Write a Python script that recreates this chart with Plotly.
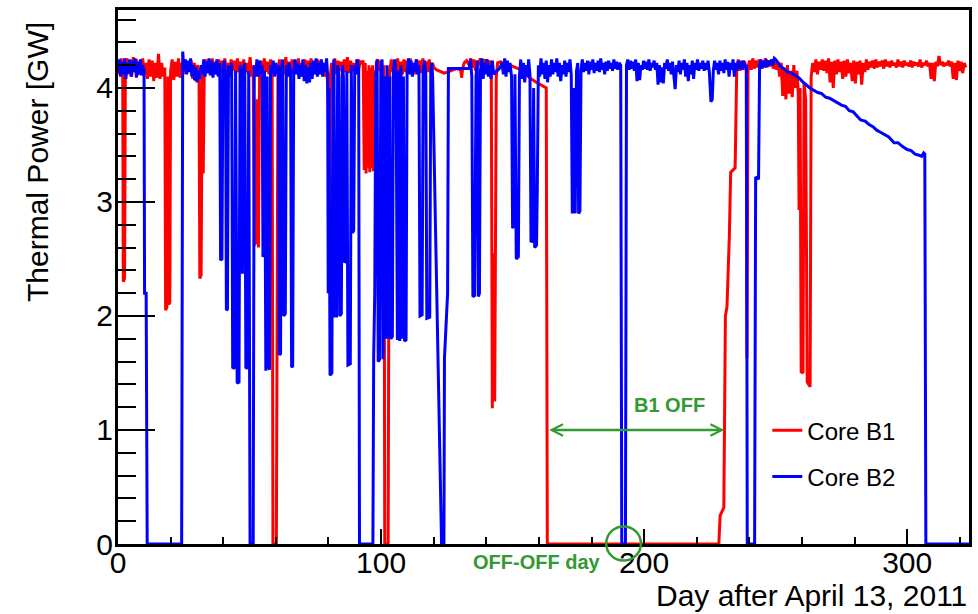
import plotly.graph_objects as go

# ---- Core B1 readings (day, thermal power GW) ----
b1_spring = [
    (0.0, 4.20), (0.6, 4.12), (1.2, 4.26), (1.8, 4.15), (2.0, 2.30), (2.5, 2.33), (2.8, 4.18),
    (3.4, 4.26), (4.0, 4.12), (4.6, 4.24), (5.2, 4.10), (5.8, 4.27), (6.4, 4.14), (7.0, 4.25),
    (7.6, 4.11), (8.2, 4.23), (8.8, 4.13), (9.4, 4.26), (10.0, 4.12), (10.6, 4.22), (11.2, 4.08),
    (11.8, 4.25), (12.4, 4.10), (13.0, 4.24), (13.6, 4.06), (14.2, 4.22), (14.8, 4.09), (15.4, 4.30),
    (16.0, 4.08), (16.6, 4.22), (17.2, 4.10), (17.8, 4.18), (18.1, 2.05), (18.6, 2.08), (19.0, 4.10),
    (19.3, 2.10), (19.7, 2.12), (20.0, 4.15), (20.6, 4.25), (21.2, 4.07), (21.8, 4.23), (22.4, 4.10),
    (23.0, 4.26), (23.6, 4.09), (24.2, 4.22), (24.8, 4.12), (25.4, 4.25), (26.0, 4.15), (26.6, 4.23),
    (27.2, 4.16), (27.8, 4.24), (28.4, 4.08), (29.0, 4.22), (29.6, 4.06), (30.2, 4.20), (30.8, 4.15),
    (31.1, 2.33), (31.6, 2.36), (32.0, 4.15), (32.4, 3.25), (32.8, 4.18), (33.4, 4.25), (34.0, 4.13),
    (34.6, 4.24), (35.2, 4.12), (35.8, 4.26), (36.4, 4.14), (37.0, 4.23), (37.6, 4.12), (38.2, 4.25),
    (38.8, 4.15), (39.4, 4.24), (40.0, 4.13), (40.6, 4.26), (41.2, 4.14), (41.8, 4.22), (42.4, 4.12),
    (43.0, 4.25), (43.6, 4.15), (44.2, 4.24), (44.8, 4.13), (45.4, 4.26), (46.0, 4.14), (46.6, 4.23),
    (47.2, 4.12), (47.8, 4.25), (48.4, 4.14), (49.0, 4.22), (49.6, 4.12), (50.2, 4.27), (50.8, 4.10),
    (51.4, 4.20), (51.9, 2.62), (52.4, 2.65), (52.8, 3.90), (53.4, 2.60), (53.8, 4.10), (54.4, 4.24),
    (55.0, 4.12), (55.6, 4.26), (56.2, 4.14), (56.8, 4.23), (57.4, 4.12), (58.0, 4.25), (58.6, 4.15),
    (58.9, 0.0), (60.2, 0.0), (60.5, 2.90), (60.8, 4.15), (61.4, 4.25), (62.0, 4.13), (62.6, 4.24),
    (63.2, 4.12), (63.8, 4.27), (64.4, 4.14), (65.0, 4.23), (65.6, 4.11), (66.2, 4.25), (66.8, 4.14),
    (67.4, 4.24), (68.0, 4.13), (68.6, 4.26), (69.2, 4.12), (69.8, 4.22), (70.4, 4.14), (71.0, 4.25),
    (71.6, 4.13), (72.2, 4.24), (72.8, 4.15), (73.4, 4.26), (74.0, 4.12), (74.6, 4.23), (75.2, 4.14),
    (75.8, 4.25), (76.4, 4.13), (77.0, 4.24), (77.6, 4.16), (78.2, 4.22), (78.8, 4.10), (79.4, 4.15),
    (79.9, 3.95), (80.3, 2.95), (80.7, 4.10), (81.2, 4.22), (81.8, 4.14), (82.4, 4.26), (83.0, 4.12),
    (83.6, 4.24), (84.2, 4.15), (84.8, 4.23), (85.4, 4.12), (86.0, 4.25), (86.6, 4.14), (87.2, 4.27),
    (87.8, 4.13), (88.4, 4.24), (89.0, 4.15), (89.6, 4.22), (90.2, 4.13), (90.8, 4.25), (91.4, 4.14),
    (92.0, 4.23), (92.6, 4.22), (93.2, 4.24), (93.6, 3.28), (94.0, 4.22), (94.3, 3.25), (94.7, 4.15),
    (95.0, 3.30), (95.4, 4.20), (95.7, 3.26), (96.1, 4.18), (96.4, 3.30), (96.8, 4.20), (97.1, 3.27),
    (97.5, 4.15), (97.8, 3.32), (98.2, 4.22), (98.8, 4.25), (99.4, 4.15), (100.0, 4.24), (100.6, 4.14),
    (101.1, 4.20), (101.4, 0.0), (102.7, 0.0), (103.0, 2.60), (103.3, 4.15),
]
b1_summer = [
    (103.9, 4.25), (104.5, 4.14), (105.1, 4.24), (105.7, 4.13), (106.3, 4.26), (106.9, 4.15),
    (107.5, 4.23), (108.1, 4.12), (108.7, 4.25), (109.3, 4.14), (109.9, 4.24), (110.5, 4.13),
    (111.1, 4.26), (111.7, 4.15), (112.3, 4.22), (112.9, 4.12), (113.5, 4.25), (114.1, 4.16),
    (114.7, 4.24), (115.3, 4.13), (115.9, 4.26), (116.5, 4.15), (117.1, 4.23), (117.7, 4.14),
    (118.3, 4.25), (118.9, 4.15), (119.5, 4.22), (120.1, 4.18), (121.0, 4.16), (124.0, 4.13),
    (126.5, 4.15), (128.5, 4.17), (130.3, 4.16), (130.6, 4.09), (131.0, 4.17), (131.6, 4.22),
    (132.5, 4.24), (133.5, 4.20), (134.1, 4.26), (134.7, 4.18), (135.3, 4.25), (135.9, 4.15),
    (136.5, 4.24), (137.1, 4.20), (137.7, 4.26), (138.3, 4.19), (138.9, 4.25), (139.5, 4.22),
    (140.1, 4.25), (140.7, 4.18), (141.3, 4.24), (141.9, 4.20), (142.3, 1.19), (142.7, 2.55),
    (143.2, 1.25), (143.8, 4.10), (144.3, 4.22), (145.5, 4.23), (147.0, 4.20), (149.0, 4.20),
    (151.0, 4.18), (153.0, 4.16), (155.0, 4.12), (157.0, 4.08), (159.0, 4.05), (161.0, 4.02),
    (162.8, 4.00), (163.2, 0.0), (228.4, 0.0), (228.9, 0.25), (230.3, 0.32), (230.9, 2.00),
    (231.5, 2.08), (232.4, 2.70), (232.9, 3.26), (234.6, 3.30), (235.2, 4.16),
]
b1_autumn = [
    (235.8, 4.25), (236.4, 4.15), (237.0, 4.24), (237.6, 4.16), (238.2, 4.23), (238.8, 4.18),
    (239.1, 1.63), (239.5, 4.18), (240.1, 4.24), (240.7, 4.16), (241.3, 4.26), (241.9, 4.17),
    (242.5, 4.24), (243.1, 4.18), (243.7, 4.25), (244.3, 4.17), (244.9, 4.23), (245.5, 4.19),
    (246.1, 4.26), (246.7, 4.18), (247.3, 4.24), (247.9, 4.19), (248.5, 4.25), (249.1, 4.17),
    (249.7, 4.24), (250.3, 4.16), (250.9, 4.23), (251.5, 4.10), (252.1, 4.22), (252.7, 3.93),
    (253.3, 4.18), (253.9, 3.90), (254.5, 4.20), (255.1, 3.95), (255.7, 4.15), (256.3, 3.92),
    (256.9, 4.20), (257.5, 4.00), (258.1, 4.15), (258.6, 3.95), (258.9, 2.93), (259.3, 4.00),
    (259.7, 1.51), (260.4, 1.50), (260.8, 4.05), (261.4, 3.90), (262.0, 1.42), (263.1, 1.38),
    (263.5, 4.10), (264.1, 4.22), (264.7, 4.14), (265.3, 4.25), (265.9, 4.12), (266.5, 4.23),
    (267.1, 4.16), (267.7, 4.25), (268.3, 4.15), (268.9, 4.24), (269.5, 4.13), (270.1, 4.26),
    (270.7, 4.05), (271.3, 4.23), (271.9, 4.00), (272.5, 4.24), (273.1, 4.12), (273.7, 4.25),
    (274.3, 4.14), (274.9, 4.23), (275.5, 4.08), (276.1, 4.24), (276.7, 4.10), (277.3, 4.25),
    (277.9, 4.13), (278.5, 4.22), (279.1, 4.06), (279.7, 4.24), (280.3, 4.04), (280.9, 4.23),
    (281.5, 4.12), (282.1, 4.24), (282.7, 4.03), (283.3, 4.22), (283.9, 4.14), (284.5, 4.25),
    (285.1, 4.16), (285.7, 4.23), (286.3, 4.18), (286.9, 4.24), (287.5, 4.17), (288.1, 4.25),
    (288.7, 4.18), (289.3, 4.23), (289.9, 4.19), (290.5, 4.24), (291.1, 4.17), (291.7, 4.25),
    (292.3, 4.19), (292.9, 4.23), (293.5, 4.18), (294.1, 4.24), (294.7, 4.20), (295.3, 4.22),
    (295.9, 4.18), (296.5, 4.25), (297.1, 4.19), (297.7, 4.23), (298.3, 4.18), (298.9, 4.24),
    (299.5, 4.20), (300.1, 4.22), (300.7, 4.19), (301.3, 4.24), (301.9, 4.18), (302.5, 4.23),
    (303.1, 4.20), (303.7, 4.22), (304.3, 4.19), (304.9, 4.25), (305.5, 4.18), (306.1, 4.22),
    (306.7, 4.20), (307.3, 4.24), (307.9, 4.19), (308.5, 4.22), (309.1, 4.08), (309.7, 4.22),
    (310.3, 4.06), (310.9, 4.23), (311.5, 4.19), (312.1, 4.28), (312.7, 4.20), (313.3, 4.23),
    (313.9, 4.19), (314.5, 4.22), (315.1, 4.20), (315.7, 4.24), (316.3, 4.19), (316.9, 4.23),
    (317.5, 4.08), (318.1, 4.22), (318.7, 4.07), (319.3, 4.24), (319.9, 4.15), (320.5, 4.23),
    (321.1, 4.13), (321.7, 4.22), (322.3, 4.18),
]

# ---- Core B2 readings (day, thermal power GW) ----
b2_spring = [
    (0.0, 4.15), (0.5, 4.25), (1.0, 4.10), (1.5, 4.23), (2.0, 4.12), (2.5, 4.26), (3.0, 4.08),
    (3.5, 4.22), (4.0, 4.13), (4.5, 4.25), (5.0, 4.10), (5.5, 4.24), (6.0, 4.14), (6.5, 4.26),
    (7.0, 4.09), (7.5, 4.23), (8.0, 4.12), (8.5, 4.25), (9.0, 4.11), (9.5, 4.20), (9.9, 4.15),
    (10.1, 2.20), (10.7, 2.20), (11.1, 0.0), (24.2, 0.0), (24.6, 4.32), (25.1, 4.15), (25.6, 4.25),
    (26.1, 4.12), (26.6, 4.24), (27.1, 4.14), (27.6, 4.26), (28.1, 4.10), (28.6, 4.20), (29.1, 4.07),
    (29.6, 4.18), (30.1, 4.05), (30.6, 4.15), (31.1, 4.08), (31.6, 4.20), (32.1, 4.12), (32.6, 4.25),
    (33.1, 4.10), (33.6, 4.23), (34.1, 4.13), (34.6, 4.26), (35.1, 4.11), (35.6, 4.24), (36.1, 4.09),
    (36.6, 4.22), (37.1, 4.12), (37.6, 4.25), (38.1, 4.10), (38.7, 4.22), (39.0, 2.49), (39.5, 2.50),
    (39.9, 4.15), (40.4, 4.24), (40.9, 4.12), (41.2, 2.05), (41.6, 2.06), (42.0, 4.20), (42.6, 4.10),
    (43.2, 4.22), (43.6, 1.55), (44.3, 1.54), (44.7, 4.15), (45.3, 1.41), (46.0, 1.42), (46.4, 4.20),
    (46.8, 4.10), (47.3, 2.37), (47.6, 4.15), (48.2, 4.22), (48.6, 1.55), (49.3, 1.54), (49.7, 4.15),
    (50.2, 0.0), (51.4, 0.0), (51.8, 4.20), (52.3, 4.10), (52.8, 4.25), (53.3, 4.10), (53.8, 4.24),
    (54.3, 4.12), (54.8, 4.20), (55.1, 2.52), (55.4, 2.53), (55.7, 4.15), (56.2, 1.52), (56.7, 4.10),
    (57.1, 1.55), (57.6, 1.53), (58.0, 4.20), (58.5, 4.12), (59.0, 4.24), (59.5, 4.10), (60.0, 4.22),
    (60.5, 4.12), (61.0, 4.20), (61.3, 1.66), (61.8, 1.67), (62.1, 4.15), (62.6, 4.25), (63.0, 2.00),
    (63.6, 2.02), (64.0, 4.20), (64.5, 4.10), (65.0, 4.22), (65.6, 4.15), (66.0, 1.55), (66.4, 1.56),
    (66.8, 4.15), (67.3, 4.25), (67.8, 4.12), (68.3, 4.22), (68.8, 4.08), (69.3, 4.20), (69.8, 4.10),
    (70.3, 4.25), (70.8, 4.06), (71.3, 4.20), (71.8, 4.04), (72.3, 4.18), (72.8, 4.05), (73.3, 4.22),
    (73.8, 4.08), (74.3, 4.24), (74.8, 4.12), (75.3, 4.26), (75.8, 4.10), (76.3, 4.22), (76.8, 4.12),
    (77.3, 4.25), (77.8, 4.10), (78.3, 4.22), (78.8, 4.14), (79.3, 4.26), (79.7, 4.10), (79.9, 2.20),
    (80.2, 4.00), (80.6, 1.48), (81.3, 1.50), (81.7, 4.15), (82.1, 4.25), (82.5, 2.00), (83.1, 2.00),
    (83.5, 4.20), (84.0, 4.10), (84.3, 2.00), (84.9, 2.02), (85.3, 4.20), (85.7, 4.10), (86.1, 2.47),
    (86.6, 2.48), (87.0, 4.15), (87.4, 1.57), (88.3, 1.58), (88.7, 4.20), (89.1, 2.73), (89.6, 2.75),
    (90.0, 4.20), (90.5, 4.12), (91.0, 4.25), (91.5, 4.15), (91.8, 0.0), (96.9, 0.0), (97.2, 1.64),
    (97.6, 2.20), (98.0, 4.10), (98.5, 4.25), (98.9, 1.60), (99.5, 1.62), (99.9, 4.15), (100.4, 4.25),
    (100.8, 1.62), (101.3, 4.10), (101.7, 1.80), (102.3, 4.20), (102.7, 1.80), (103.3, 4.10),
    (103.7, 1.80), (104.3, 1.82), (104.7, 4.15), (105.2, 4.25), (105.7, 4.12), (106.2, 1.79),
    (106.7, 4.15), (107.1, 1.78), (107.6, 4.20), (108.0, 1.80), (108.5, 4.10), (108.9, 1.78),
    (109.5, 1.79), (109.9, 4.15), (110.4, 4.26), (110.9, 4.12), (111.4, 4.24), (111.9, 4.10),
    (112.4, 4.22), (112.9, 4.14), (113.4, 4.25), (113.9, 4.12), (114.4, 4.20), (114.8, 2.00),
    (115.6, 2.01), (116.0, 4.15), (116.6, 4.24), (117.0, 4.12), (117.4, 1.98), (118.5, 1.99),
    (118.9, 4.15), (119.3, 4.22), (119.6, 4.10), (123.0, 0.0), (123.9, 0.0), (124.1, 1.63),
    (125.3, 2.20), (125.6, 4.17), (133.5, 4.17),
]
b2_summer = [
    (134.0, 4.25), (134.5, 4.10), (134.9, 2.17), (135.6, 2.18), (136.1, 4.10), (136.6, 4.24),
    (137.0, 2.17), (137.4, 2.20), (137.8, 4.15), (138.3, 4.26), (138.8, 4.08), (139.3, 4.22),
    (139.8, 4.12), (140.3, 4.25), (140.8, 4.10), (141.3, 4.20), (141.8, 4.08), (142.3, 4.24),
    (142.8, 4.12), (143.5, 4.14), (145.0, 4.17), (146.0, 4.22), (146.5, 4.12), (147.0, 4.26),
    (147.5, 4.10), (148.0, 4.24), (148.5, 4.14), (149.0, 4.22), (149.6, 4.10), (150.0, 2.77),
    (150.5, 2.80), (150.9, 4.12), (151.4, 2.50), (152.2, 2.52), (152.6, 4.10), (153.1, 4.25),
    (153.6, 4.08), (154.1, 4.22), (154.6, 4.05), (155.1, 4.20), (155.6, 4.10), (156.1, 4.25),
    (156.6, 4.12), (157.0, 2.65), (157.6, 2.66), (158.0, 4.00), (158.4, 2.60), (159.1, 2.62),
    (159.4, 3.13), (159.8, 4.20), (160.3, 4.10), (160.8, 4.26), (161.3, 4.12), (161.8, 4.22),
    (162.3, 4.08), (162.8, 4.24), (163.3, 4.05), (163.8, 4.20), (164.3, 4.10), (164.8, 4.25),
    (165.3, 4.12), (165.8, 4.22), (166.3, 4.14), (166.8, 4.26), (167.3, 4.10), (167.8, 4.22),
    (168.3, 4.06), (168.8, 4.20), (169.3, 4.12), (169.8, 4.24), (170.3, 4.10), (170.8, 4.22),
    (171.3, 4.14), (171.8, 4.25), (172.3, 4.12), (172.7, 2.90), (173.3, 4.00), (173.8, 2.90),
    (174.3, 4.15), (174.8, 4.22), (175.1, 2.90), (175.6, 2.92), (176.0, 4.15), (176.5, 4.25),
    (177.0, 4.14), (177.5, 4.22), (178.0, 4.15), (178.5, 4.24), (179.0, 4.12), (179.5, 4.23),
    (180.0, 4.16), (180.5, 4.25), (181.0, 4.13), (181.5, 4.22), (182.0, 4.15), (182.5, 4.24),
    (183.0, 4.14), (183.5, 4.26), (184.0, 4.16), (184.5, 4.22), (185.0, 4.12), (185.5, 4.23),
    (186.0, 4.15), (186.5, 4.24), (187.0, 4.17), (187.5, 4.22), (188.0, 4.15), (188.5, 4.25),
    (189.0, 4.17), (189.5, 4.23), (190.0, 4.16), (190.5, 4.22), (191.1, 4.20), (191.5, 0.0),
    (192.9, 0.0), (193.3, 4.20), (193.8, 4.25), (194.3, 4.16), (194.8, 4.24), (195.3, 4.17),
    (195.8, 4.23), (196.3, 4.15), (196.8, 4.25), (197.3, 4.06), (197.8, 4.22), (198.3, 4.07),
    (198.8, 4.20), (199.3, 4.16), (199.8, 4.24), (200.3, 4.17), (200.8, 4.23), (201.3, 4.16),
    (201.8, 4.25), (202.3, 4.15), (202.8, 4.22), (203.3, 4.18), (203.8, 4.24), (204.3, 4.16),
    (204.8, 4.22), (205.3, 4.03), (205.8, 4.20), (206.3, 4.05), (206.8, 4.18), (207.3, 4.04),
    (207.8, 4.22), (208.3, 4.17), (208.8, 4.25), (209.3, 4.15), (209.8, 4.22), (210.3, 4.12),
    (210.8, 4.23), (211.3, 4.10), (211.8, 3.99), (212.3, 4.20), (212.8, 4.14), (213.3, 4.24),
    (213.8, 4.12), (214.3, 4.22), (214.8, 4.16), (215.3, 4.25), (215.8, 4.10), (216.3, 4.22),
    (216.8, 4.06), (217.3, 4.20), (217.8, 4.12), (218.3, 4.24), (218.8, 4.08), (219.3, 4.22),
    (219.8, 4.16), (220.3, 4.25), (220.8, 4.15), (221.3, 4.22), (221.8, 4.17), (222.3, 4.24),
    (222.8, 4.15), (223.3, 4.22), (223.8, 4.16), (224.3, 4.24), (224.8, 4.14), (225.4, 3.88),
    (225.9, 3.90), (226.3, 4.15), (226.8, 4.24), (227.3, 4.16), (227.8, 4.22), (228.3, 4.12),
    (228.8, 4.24), (229.3, 4.15), (229.8, 4.22), (230.3, 4.13), (230.8, 4.25), (231.3, 4.16),
    (231.8, 4.23), (232.3, 4.10), (232.8, 4.22), (233.3, 4.16), (233.8, 4.25), (234.3, 4.10),
    (234.8, 4.22), (235.3, 4.15), (235.8, 4.24), (236.3, 4.17), (236.8, 4.23), (237.3, 4.16),
    (237.8, 4.24), (238.3, 4.18), (238.9, 4.20),
]
b2_autumn = [
    (239.2, 0.0), (242.0, 0.0), (242.4, 3.22), (243.5, 3.20), (243.9, 4.20), (244.4, 4.25),
    (244.9, 4.17), (245.4, 4.24), (245.9, 4.18), (246.4, 4.25), (246.9, 4.19), (247.4, 4.24),
    (247.9, 4.20), (248.4, 4.25), (248.9, 4.20), (249.5, 4.26), (250.0, 4.25), (251.5, 4.20),
    (253.0, 4.17), (254.5, 4.14), (256.0, 4.13), (257.5, 4.11), (258.8, 4.09), (260.0, 4.06),
    (261.5, 4.03), (263.0, 4.00), (264.5, 3.98), (266.0, 3.96), (267.5, 3.95), (269.0, 3.92),
    (270.5, 3.91), (272.0, 3.89), (273.5, 3.87), (275.0, 3.85), (276.5, 3.84), (278.0, 3.80),
    (279.5, 3.79), (281.0, 3.75), (282.3, 3.72), (284.0, 3.71), (285.5, 3.68), (287.0, 3.66),
    (288.4, 3.63), (290.0, 3.61), (291.5, 3.59), (293.0, 3.57), (295.0, 3.52), (296.5, 3.52),
    (298.0, 3.49), (300.0, 3.46), (301.5, 3.45), (303.0, 3.42), (304.5, 3.41), (305.5, 3.40),
    (306.3, 3.43), (306.7, 3.42), (307.1, 0.0), (323.5, 0.0),
]

x_ticks = [0, 100, 200, 300]
y_ticks = [0, 1, 2, 3, 4]
legend_names = ["Core B1", "Core B2"]
b1_off_start, b1_off_end = 163.3, 230.5
off_off_day = 192.2

FONT = "Liberation Sans, Arial, Helvetica, sans-serif"
GREEN = "#339933"

b1 = b1_spring + b1_summer + b1_autumn
b2 = b2_spring + b2_summer + b2_autumn

fig = go.Figure()
fig.add_trace(go.Scatter(x=[p[0] for p in b1], y=[p[1] for p in b1], mode="lines",
                         name=legend_names[0], legendgroup="b1",
                         line=dict(color="#ff0000", width=3)))
fig.add_trace(go.Scatter(x=[p[0] for p in b2], y=[p[1] for p in b2], mode="lines",
                         name=legend_names[1], legendgroup="b2",
                         line=dict(color="#0000ff", width=3)))

axis_common = dict(showgrid=False, zeroline=False, showline=True, mirror=True,
                   linewidth=3, linecolor="black", ticks="inside", tickcolor="black",
                   tickwidth=2, tickfont=dict(family=FONT, size=30, color="black"))

fig.update_xaxes(range=[0, 323.5], tickvals=x_ticks, ticklen=15, ticklabelstandoff=-10,
                 minor=dict(dtick=20, tick0=0, ticks="inside", ticklen=7, tickwidth=2, tickcolor="black"),
                 **axis_common)
fig.update_yaxes(range=[0, 4.684], tickvals=y_ticks, ticklen=37, ticklabelstandoff=-4,
                 minor=dict(dtick=0.2, tick0=0, ticks="inside", ticklen=18, tickwidth=2, tickcolor="black"),
                 **axis_common)

annotations = [
    dict(text="Day after April 13, 2011", xref="paper", yref="paper", x=1.0, y=-0.096,
         xanchor="right", yanchor="middle", showarrow=False,
         font=dict(family=FONT, size=30, color="black")),
    dict(text="Thermal Power [GW]", xref="paper", yref="paper", x=-0.094, y=0.9813,
         xanchor="center", yanchor="top", textangle=-90, showarrow=False,
         font=dict(family=FONT, size=30, color="black")),
    dict(text="<b>B1 OFF</b>", xref="x", yref="y", x=209.6, y=1.22, showarrow=False,
         font=dict(family=FONT, size=20, color=GREEN)),
    dict(text="<b>OFF-OFF day</b>", xref="x", yref="paper", x=159.1, y=-0.034,
         yanchor="middle", showarrow=False, font=dict(family=FONT, size=20, color=GREEN)),
    dict(text="", xref="x", yref="y", axref="x", ayref="y", x=b1_off_end, y=1.0,
         ax=b1_off_start, ay=1.0, showarrow=True, arrowside="end+start",
         arrowhead=5, startarrowhead=5, arrowsize=0.9, startarrowsize=0.9,
         arrowwidth=2.5, arrowcolor=GREEN, standoff=0, startstandoff=0),
]

fig.add_shape(type="circle", xref="x", yref="paper", x0=off_off_day - 6.6, x1=off_off_day + 6.6,
              y0=-0.031, y1=0.033, line=dict(color=GREEN, width=2.5))

fig.update_layout(
    width=978, height=614, template="none",
    paper_bgcolor="white", plot_bgcolor="white",
    margin=dict(l=118, r=9, t=10, b=70),
    showlegend=True,
    legend=dict(x=0.763, y=0.2545, xanchor="left", yanchor="top", bgcolor="rgba(0,0,0,0)",
                font=dict(family=FONT, size=24, color="black"), tracegroupgap=12,
                traceorder="grouped"),
    annotations=annotations,
)

fig.write_html("out.html", config={"displayModeBar": False})

# remove the default page margin so the figure sits at the window's top-left corner
with open("out.html", "r", encoding="utf-8") as f:
    html = f.read()
html = html.replace("<head>", "<head><style>html,body{margin:0;padding:0;overflow:hidden;}</style>", 1)
with open("out.html", "w", encoding="utf-8") as f:
    f.write(html)
